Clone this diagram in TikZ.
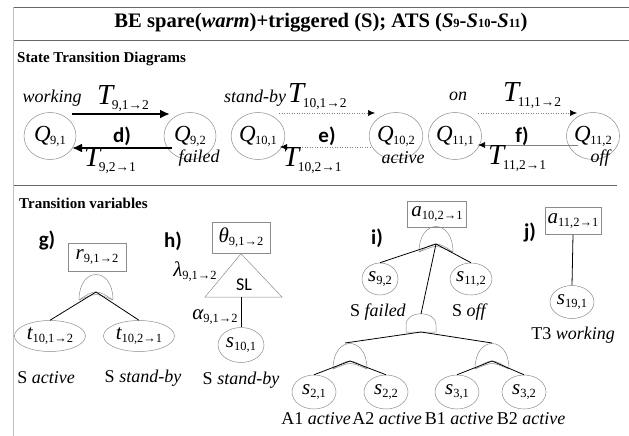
\documentclass[tikz,border=0pt]{standalone}
\usepackage{fontspec}
\setmainfont{Liberation Serif}
\newfontfamily\lblfont{Carlito}
\usetikzlibrary{shapes.geometric,arrows.meta,calc}
\newcommand{\fs}[1]{\fontsize{#1}{#1}\selectfont}
\newcommand{\TT}[1]{{\fs{29}\itshape T}\kern-1.5pt\raisebox{-5pt}{\fs{13.5}#1}}
\newcommand{\QQ}[1]{{\fs{23}\itshape Q}\kern-0.5pt\raisebox{-3pt}{\fs{12.5}#1}}
\newcommand{\VV}[2]{{\fs{21}\itshape #1}\raisebox{-3pt}{\fs{12.5}#2}}
\begin{document}
\begin{tikzpicture}[x=1pt,y=-1pt,
  frame/.style={draw=black!60,line width=0.8pt},
  vframe/.style={draw=black!25,line width=0.8pt},
  st/.style={ellipse,draw=black!45,line width=0.5pt,minimum width=52pt,minimum height=47pt,inner sep=0pt},
  sv/.style={ellipse,draw=black!45,line width=0.5pt,minimum width=44pt,minimum height=34pt,inner sep=0pt},
  tv/.style={ellipse,draw=black!45,line width=0.5pt,minimum width=71pt,minimum height=31pt,inner sep=0pt},
  bx/.style={draw=black!45,line width=0.5pt,minimum width=58pt,minimum height=28pt,inner sep=1pt},
  lbl/.style={font=\fs{18},inner sep=0pt},
  tl/.style={inner sep=0pt,anchor=west},
  sansb/.style={font=\lblfont\bfseries\fs{21},inner sep=0pt},
  head/.style={font=\bfseries\fs{15},inner sep=0pt,anchor=west},
  thick arr/.style={line width=2.8pt,-{Latex[length=10pt,width=9pt]}},
  dot arr/.style={draw=black!50,line width=0.5pt,dotted,-{Latex[length=7pt,width=6pt,color=black]}},
  sol arr/.style={draw=black!50,line width=0.6pt,-{Latex[length=7pt,width=6pt,color=black]}},
  gate/.style={draw=black!45,line width=0.5pt},
  edge/.style={draw=black,line width=0.8pt},
  andg/.pic={
    \draw[gate] (-17,8) .. controls (-17,-26) and (17,-26) .. (17,8);
    \draw[gate] (-17,8) .. controls (-8,2) and (-4,0) .. (0,0) .. controls (4,0) and (8,2) .. (17,8);
    \draw[gate] (-17,8) .. controls (-8,4.5) and (-4,2.5) .. (0,2.5) .. controls (4,2.5) and (8,4.5) .. (17,8);
  }]
\useasboundingbox (0,0) rectangle (629,436);
% frame
\draw[frame] (13,7) -- (629,7);
\draw[frame] (13,40) -- (629,40);
\draw[frame] (13,185) -- (617,185);
\draw[vframe] (13,7) -- (13,436);
\node[font=\bfseries\fs{20.6},inner sep=0pt] (title) at (321,23)
  {BE spare(\textit{warm})+triggered (S); ATS (\textit{S}{\fs{12.5}9}-\textit{S}{\fs{12.5}10}-\textit{S}{\fs{12.5}11})};
\node[head] (std) at (17,59) {State Transition Diagrams};
\node[head] (tvh) at (19,203) {Transition variables};

% ---- state transition diagrams
\node[st] (q91) at (50,136) {\QQ{9,1}};
\node[st] (q92) at (190,136) {\QQ{9,2}};
\node[st] (q101) at (258,136) {\QQ{10,1}};
\node[st] (q102) at (396,136) {\QQ{10,2}};
\node[st] (q111) at (455,136) {\QQ{11,1}};
\node[st] (q112) at (593,136) {\QQ{11,2}};

\draw[thick arr] ([shift={(22,-22)}]q91.center) -- ([shift={(-20,-22)}]q92.center);
\draw[thick arr] ([shift={(-18,12)}]q92.center) -- ([shift={(22,12)}]q91.center);
\draw[dot arr] ([shift={(21,-23)}]q101.center) -- ([shift={(-21,-23)}]q102.center);
\draw[dot arr] ([shift={(-26,11)}]q102.center) -- ([shift={(22,11)}]q101.center);
\draw[dot arr] ([shift={(23,-23)}]q111.center) -- ([shift={(-16,-23)}]q112.center);
\draw[sol arr] ([shift={(-15,9)}]q112.center) -- ([shift={(23,9)}]q111.center);

\node[lbl] (lw) at (52,98) {\itshape working};
\node[lbl] (lf) at (199,158) {\itshape failed};
\node[lbl] (lsb) at (255,98) {\itshape stand-by};
\node[lbl] (lac) at (403,158) {\itshape active};
\node[lbl] (lon) at (458,96) {\itshape on};
\node[lbl] (lof) at (600,158) {\itshape off};
\node[tl] (t1) at (97,99) {\TT{9,1→2}};
\node[tl] (t2) at (84,161) {\TT{9,2→1}};
\node[tl] (t3) at (288,97) {\TT{10,1→2}};
\node[tl] (t4) at (283,161) {\TT{10,2→1}};
\node[tl] (t5) at (503,96) {\TT{11,1→2}};
\node[tl] (t6) at (488,159) {\TT{11,2→1}};
\node[sansb] (ld) at (122,136) {d)};
\node[sansb] (le) at (327,136) {e)};
\node[sansb] (lff) at (522,136) {f)};

% ---- g)
\node[sansb] (lg) at (47,240) {g)};
\node[bx] (rb) at (97,257) {\VV{r}{9,1→2}};
\pic at (96,292) {andg};
\coordinate (gg) at (96,292);
\node[tv] (tA) at (50,336) {\VV{t}{10,1→2}};
\node[tv] (tB) at (139,336) {\VV{t}{10,2→1}};
\draw[edge] (gg) -- (tA.north);
\draw[edge] (gg) -- (tB.north);
\node[lbl] at (46,378) {S \textit{active}};
\node[lbl] at (143,378) {S \textit{stand-by}};

% ---- h)
\node[sansb] (lh) at (173,241) {h)};
\node[bx,minimum height=31pt] (th) at (241,238) {\VV{θ}{9,1→2}};
\draw[gate] (th.south) -- (205,297) -- (282,297) -- cycle;
\coordinate (tb) at (241,297);
\node[font=\lblfont\fs{18},inner sep=0pt] (sl) at (244,285) {SL};
\node[sv,minimum width=46pt,minimum height=35pt] (s101) at (241,345) {\VV{s}{10,1}};
\draw[edge] (tb) -- (s101.north);
\node[tl,anchor=center] (lam) at (195,272) {\VV{λ}{9,1→2}};
\node[tl,anchor=center] (alp) at (215,317) {\VV{α}{9,1→2}};
\node[lbl] at (241,380) {S \textit{stand-by}};

% ---- i)
\node[sansb] (li) at (377,238) {i)};
\node[bx,minimum width=59pt,minimum height=26pt] (ab) at (437,214) {\VV{a}{10,2→1}};
\pic at (436,244) {andg};
\coordinate (gi) at (436,244);
\node[sv,minimum width=36pt,minimum height=32pt] (s92) at (380,279) {\VV{s}{9,2}};
\node[sv,minimum width=36pt,minimum height=32pt] (s112) at (471,279) {\VV{s}{11,2}};
\node[lbl] at (378,312) {S \textit{failed}};
\node[lbl] at (470,312) {S \textit{off}};
\draw[gate] (406,332) -- (406,325) .. controls (406,310) and (436,310) .. (436,325) -- (436,332) -- cycle;
\coordinate (gmt) at (421,314);
\coordinate (gmb) at (421,332);
\pic at (350,361) {andg};
\pic at (492,361) {andg};
\coordinate (gA) at (350,361);
\coordinate (gB) at (492,361);
\coordinate (gAt) at (345,343);
\coordinate (gBt) at (492,343);
\draw[edge] (gi) -- (s92.north);
\draw[edge] (gi) -- (s112.north);
\draw[edge] (gi) -- (gmt);
\draw[edge] (gmb) -- (gAt);
\draw[edge] (gmb) -- (gBt);
\node[sv] (s21) at (314,392) {\VV{s}{2,1}};
\node[sv] (s22) at (386,392) {\VV{s}{2,2}};
\node[sv] (s31) at (457,392) {\VV{s}{3,1}};
\node[sv] (s32) at (524,392) {\VV{s}{3,2}};
\draw[edge] (gA) -- (s21.north);
\draw[edge] (gA) -- (s22.north);
\draw[edge] (gB) -- (s31.north);
\draw[edge] (gB) -- (s32.north);
\node[lbl] at (316,419) {A1 \textit{active}};
\node[lbl] at (387,419) {A2 \textit{active}};
\node[lbl] at (459,419) {B1 \textit{active}};
\node[lbl] at (531,419) {B2 \textit{active}};

% ---- j)
\node[sansb] (lj) at (530,232) {j)};
\node[bx,minimum width=56pt,minimum height=27pt] (ab2) at (573,221) {\VV{a}{11,2→1}};
\node[sv,minimum height=33pt] (s191) at (572,302) {\VV{s}{19,1}};
\draw[edge] (ab2.south) -- (s191.north);
\node[lbl] at (573,335) {T3 \textit{working}};
\end{tikzpicture}
\end{document}
